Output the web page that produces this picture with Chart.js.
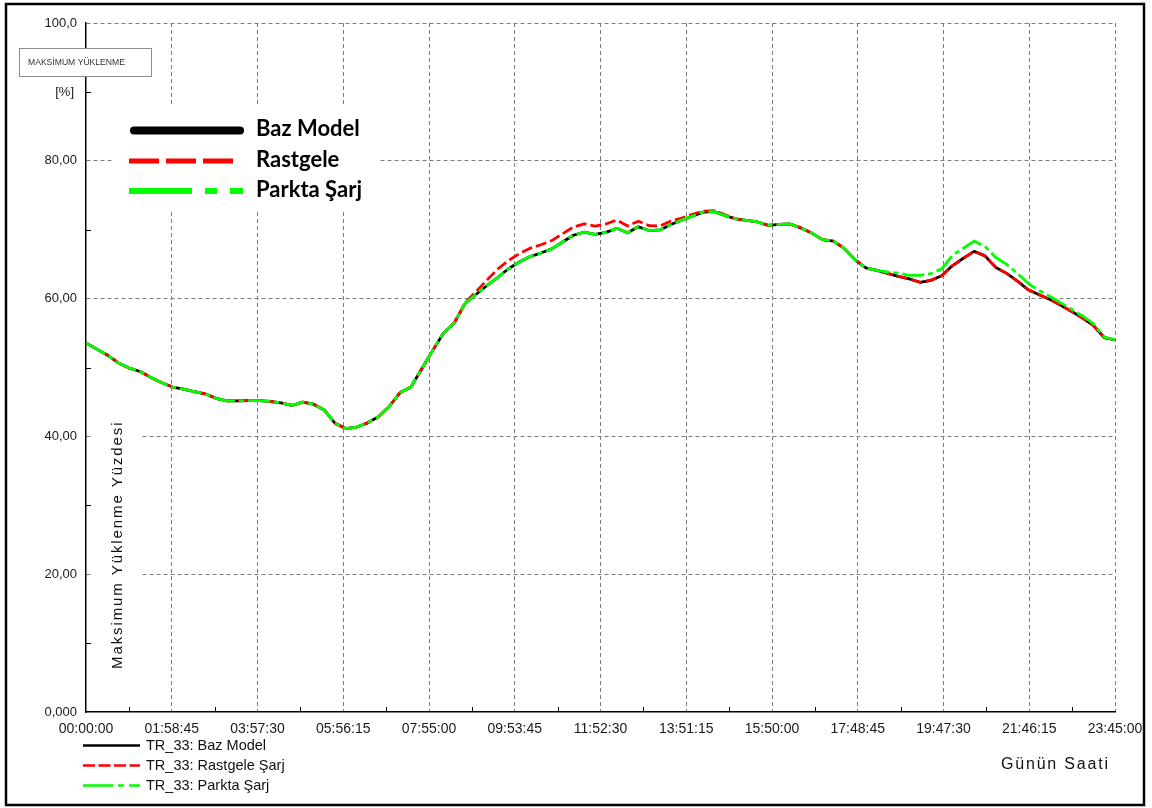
<!DOCTYPE html>
<html lang="tr">
<head>
<meta charset="utf-8">
<title>TR_33 Maksimum Yüklenme</title>
<script src="https://cdn.jsdelivr.net/npm/chart.js@4.4.1/dist/chart.umd.min.js"></script>
<style>
html,body{margin:0;padding:0;background:#fff;}
#wrap{width:1152px;height:808px;position:relative;}
canvas{display:block;}
</style>
</head>
<body>
<div id="wrap"><canvas id="c" width="1152" height="808"></canvas></div>
<script>
// 15-minute time stamps of the day
const saatler = [
  '00:00','00:15','00:30','00:45','01:00','01:15','01:30','01:45',
  '02:00','02:15','02:30','02:45','03:00','03:15','03:30','03:45',
  '04:00','04:15','04:30','04:45','05:00','05:15','05:30','05:45',
  '06:00','06:15','06:30','06:45','07:00','07:15','07:30','07:45',
  '08:00','08:15','08:30','08:45','09:00','09:15','09:30','09:45',
  '10:00','10:15','10:30','10:45','11:00','11:15','11:30','11:45',
  '12:00','12:15','12:30','12:45','13:00','13:15','13:30','13:45',
  '14:00','14:15','14:30','14:45','15:00','15:15','15:30','15:45',
  '16:00','16:15','16:30','16:45','17:00','17:15','17:30','17:45',
  '18:00','18:15','18:30','18:45','19:00','19:15','19:30','19:45',
  '20:00','20:15','20:30','20:45','21:00','21:15','21:30','21:45',
  '22:00','22:15','22:30','22:45','23:00','23:15','23:30','23:45'
];

// TR_33 maximum loading [%]
const bazModel = [
  53.56, 52.67, 51.77, 50.67, 49.90, 49.42, 48.55, 47.78,
  47.16, 46.85, 46.49, 46.18, 45.53, 45.17, 45.15, 45.18,
  45.20, 45.08, 44.86, 44.49, 44.98, 44.67, 43.83, 41.89,
  41.13, 41.36, 41.97, 42.84, 44.37, 46.37, 47.18, 49.83,
  52.45, 54.98, 56.46, 59.30, 60.60, 61.87, 63.06, 64.33,
  65.31, 66.10, 66.62, 67.21, 68.21, 69.19, 69.65, 69.33,
  69.62, 70.20, 69.55, 70.42, 69.88, 69.96, 70.75, 71.39,
  71.99, 72.55, 72.63, 72.05, 71.58, 71.35, 71.12, 70.64,
  70.77, 70.83, 70.26, 69.51, 68.56, 68.35, 67.29, 65.63,
  64.46, 64.09, 63.66, 63.24, 62.87, 62.37, 62.64, 63.31,
  64.79, 65.86, 66.85, 66.20, 64.51, 63.66, 62.53, 61.28,
  60.57, 59.87, 59.03, 58.14, 57.18, 56.12, 54.35, 53.99
];

const rastgeleSarj = [
  53.56, 52.67, 51.77, 50.67, 49.90, 49.42, 48.55, 47.78,
  47.16, 46.85, 46.49, 46.18, 45.53, 45.17, 45.15, 45.18,
  45.20, 45.08, 44.86, 44.49, 44.98, 44.67, 43.83, 41.89,
  41.13, 41.36, 41.97, 42.84, 44.37, 46.37, 47.18, 49.83,
  52.45, 54.98, 56.46, 59.40, 61.00, 62.67, 64.26, 65.53,
  66.51, 67.30, 67.82, 68.41, 69.41, 70.39, 70.85, 70.53,
  70.82, 71.40, 70.55, 71.22, 70.58, 70.56, 71.25, 71.69,
  72.24, 72.70, 72.78, 72.15, 71.58, 71.35, 71.12, 70.64,
  70.77, 70.83, 70.26, 69.51, 68.56, 68.35, 67.29, 65.63,
  64.46, 64.09, 63.66, 63.24, 62.87, 62.37, 62.64, 63.31,
  64.79, 65.86, 66.85, 66.20, 64.51, 63.66, 62.53, 61.28,
  60.57, 59.87, 59.03, 58.14, 57.18, 56.12, 54.35, 53.99
];

const parktaSarj = [
  53.56, 52.67, 51.77, 50.67, 49.90, 49.42, 48.55, 47.78,
  47.16, 46.85, 46.49, 46.18, 45.53, 45.17, 45.15, 45.18,
  45.20, 45.08, 44.86, 44.49, 44.98, 44.67, 43.83, 41.89,
  41.13, 41.36, 41.97, 42.84, 44.37, 46.37, 47.18, 49.83,
  52.45, 54.98, 56.46, 59.30, 60.60, 61.87, 63.06, 64.33,
  65.31, 66.10, 66.62, 67.21, 68.21, 69.19, 69.65, 69.33,
  69.62, 70.20, 69.55, 70.42, 69.88, 69.96, 70.75, 71.39,
  71.99, 72.55, 72.63, 72.05, 71.58, 71.35, 71.12, 70.64,
  70.77, 70.83, 70.26, 69.51, 68.56, 68.35, 67.29, 65.63,
  64.46, 64.09, 63.86, 63.69, 63.37, 63.37, 63.64, 64.31,
  66.29, 67.31, 68.35, 67.55, 65.96, 64.96, 63.63, 62.18,
  61.17, 60.32, 59.38, 58.44, 57.48, 56.37, 54.40, 54.04
];

const xTickLabels = ['00:00:00','01:58:45','03:57:30','05:56:15','07:55:00','09:53:45',
  '11:52:30','13:51:15','15:50:00','17:48:45','19:47:30','21:46:15','23:45:00'];
const yTickLabels = ['0,000','20,00','40,00','60,00','80,00','100,0'];

const seriesNames = ['TR_33: Baz Model', 'TR_33: Rastgele Şarj', 'TR_33: Parkta Şarj'];
const legendNames = ['Baz Model', 'Rastgele', 'Parkta Şarj'];
const kutuBaslik = 'MAKSİMUM YÜKLENME';
const birim = '[%]';
const yBaslik = 'Maksimum Yüklenme Yüzdesi';
const xBaslik = 'Günün Saati';

// helpers
const toSec = s => s.split(':').map(Number).reduce((acc, v, i) => acc + v * [3600, 60, 1][i], 0);
const pts = vals => vals.map((v, i) => ({ x: toSec(saatler[i]), y: v }));
const xTickVals = xTickLabels.map(toSec);
const yTickVals = yTickLabels.map(s => parseFloat(s.replace(',', '.')));

const RED = '#ff0000', GREEN = '#00ff00', BLACK = '#000000';
const DASH_RED = [11, 4];
const DASH_GREEN = [22, 4, 5, 4];
const FONT = '"Liberation Sans", Arial, sans-serif';

// extra drawing: minor ticks, inner legends, boxes, titles, frame
const decor = {
  id: 'decor',
  beforeDraw(chart) {
    const c = chart.ctx;
    c.save();
    c.fillStyle = '#fff';
    c.fillRect(0, 0, chart.width, chart.height);
    c.restore();
  },
  afterDraw(chart) {
    const c = chart.ctx;
    const xs = chart.scales.x, ys = chart.scales.y;
    const area = chart.chartArea;
    c.save();

    // white panels behind the inner legend and the vertical title
    c.fillStyle = '#fff';
    c.fillRect(112, 105, 266, 106);
    c.fillRect(93, 394, 49, 284);

    // minor tick marks (inside the plot)
    c.strokeStyle = '#000';
    c.lineWidth = 1;
    c.beginPath();
    for (let i = 0; i < yTickVals.length - 1; i++) {
      const py = Math.round(ys.getPixelForValue((yTickVals[i] + yTickVals[i + 1]) / 2)) + 0.5;
      c.moveTo(area.left, py); c.lineTo(area.left + 5, py);
    }
    for (let i = 0; i < xTickVals.length - 1; i++) {
      const px = Math.round(xs.getPixelForValue((xTickVals[i] + xTickVals[i + 1]) / 2)) + 0.5;
      c.moveTo(px, area.bottom); c.lineTo(px, area.bottom - 5);
    }
    c.stroke();

    // title box
    c.fillStyle = '#fff';
    c.fillRect(19, 48, 133, 29);
    c.strokeStyle = '#8c8c8c';
    c.lineWidth = 1;
    c.strokeRect(19.5, 48.5, 132, 28);
    c.fillStyle = '#333';
    c.font = '8.6px ' + FONT;
    c.textAlign = 'left';
    c.textBaseline = 'middle';
    c.fillText(kutuBaslik, 28, 63);

    // unit
    c.fillStyle = '#222';
    c.font = '13px ' + FONT;
    c.textAlign = 'right';
    c.fillText(birim, 74, 92);

    // inner legend
    c.lineCap = 'round';
    c.strokeStyle = BLACK;
    c.lineWidth = 8;
    c.beginPath(); c.moveTo(134, 130.5); c.lineTo(240, 130.5); c.stroke();
    c.lineCap = 'butt';
    c.strokeStyle = RED;
    c.lineWidth = 5;
    c.setLineDash([30, 7]);
    c.beginPath(); c.moveTo(129, 161); c.lineTo(233, 161); c.stroke();
    c.strokeStyle = GREEN;
    c.lineWidth = 6;
    c.setLineDash([63, 13, 12, 13]);
    c.beginPath(); c.moveTo(129, 191); c.lineTo(243, 191); c.stroke();
    c.setLineDash([]);
    c.fillStyle = '#000';
    c.font = 'bold 22px Lato, "Open Sans", sans-serif';
    c.textAlign = 'left';
    c.textBaseline = 'middle';
    c.fillText(legendNames[0], 256, 129);
    c.fillText(legendNames[1], 256, 160);
    c.fillText(legendNames[2], 256, 190);

    // bottom legend
    const rows = [745, 765, 785];
    const styles = [[BLACK, []], [RED, [12, 3.5]], [GREEN, [30, 5, 6, 5]]];
    rows.forEach((y, i) => {
      c.strokeStyle = styles[i][0];
      c.lineWidth = 2.6;
      c.setLineDash(styles[i][1]);
      c.beginPath(); c.moveTo(83, y + 0.5); c.lineTo(140, y + 0.5); c.stroke();
    });
    c.setLineDash([]);
    c.fillStyle = '#111';
    c.font = '14.5px ' + FONT;
    c.textBaseline = 'middle';
    rows.forEach((y, i) => c.fillText(seriesNames[i], 146, y + 1));

    // vertical axis title
    c.save();
    c.translate(118, 669);
    c.rotate(-Math.PI / 2);
    c.fillStyle = '#111';
    c.font = '15px ' + FONT;
    c.letterSpacing = '1.9px';
    c.textAlign = 'left';
    c.textBaseline = 'middle';
    c.fillText(yBaslik, 0, 0);
    c.restore();

    // horizontal axis title
    c.fillStyle = '#111';
    c.font = '16px ' + FONT;
    c.letterSpacing = '1.8px';
    c.textAlign = 'left';
    c.textBaseline = 'middle';
    c.fillText(xBaslik, 1001, 765);
    c.letterSpacing = '0px';

    // outer frame
    c.strokeStyle = '#000';
    c.lineWidth = 2.5;
    c.strokeRect(6, 4, 1138, 801);
    c.restore();
  }
};

new Chart(document.getElementById('c'), {
  type: 'line',
  data: {
    datasets: [
      { label: seriesNames[0], data: pts(bazModel), borderColor: BLACK, borderWidth: 2.8, order: 3 },
      { label: seriesNames[1], data: pts(rastgeleSarj), borderColor: RED, borderWidth: 2.8, borderDash: DASH_RED, order: 2 },
      { label: seriesNames[2], data: pts(parktaSarj), borderColor: GREEN, borderWidth: 2.8, borderDash: DASH_GREEN, order: 1 }
    ]
  },
  options: {
    responsive: false,
    animation: false,
    layout: { padding: { left: 0, right: 37, top: 23, bottom: 66 } },
    elements: {
      point: { radius: 0, hoverRadius: 0 },
      line: { tension: 0, borderCapStyle: 'butt', borderJoinStyle: 'round', fill: false }
    },
    plugins: { legend: { display: false }, tooltip: { enabled: false } },
    events: [],
    scales: {
      x: {
        type: 'linear',
        min: xTickVals[0],
        max: xTickVals[xTickVals.length - 1],
        afterBuildTicks: s => { s.ticks = xTickVals.map(v => ({ value: v })); },
        afterFit: s => { s.height = 30; },
        ticks: {
          callback: (v, i) => xTickLabels[i],
          font: { family: FONT, size: 14 },
          color: '#1a1a1a',
          padding: 9,
          maxRotation: 0,
          autoSkip: false
        },
        grid: {
          color: ctx => (ctx.index === 0 ? 'rgba(0,0,0,0)' : '#7c7c7c'),
          lineWidth: 1,
          drawTicks: false
        },
        border: { display: true, color: '#000', width: 1.5, dash: [4, 3] }
      },
      y: {
        type: 'linear',
        min: yTickVals[0],
        max: yTickVals[yTickVals.length - 1],
        afterBuildTicks: s => { s.ticks = yTickVals.map(v => ({ value: v })); },
        afterFit: s => { s.width = 86; },
        ticks: {
          callback: (v, i) => yTickLabels[i],
          font: { family: FONT, size: 13 },
          color: '#1a1a1a',
          padding: 9
        },
        grid: {
          color: ctx => (ctx.index === 0 ? 'rgba(0,0,0,0)' : '#7c7c7c'),
          lineWidth: 1,
          drawTicks: false
        },
        border: { display: true, color: '#000', width: 1.5, dash: [4, 3] }
      }
    }
  },
  plugins: [decor]
});
</script>
</body>
</html>
